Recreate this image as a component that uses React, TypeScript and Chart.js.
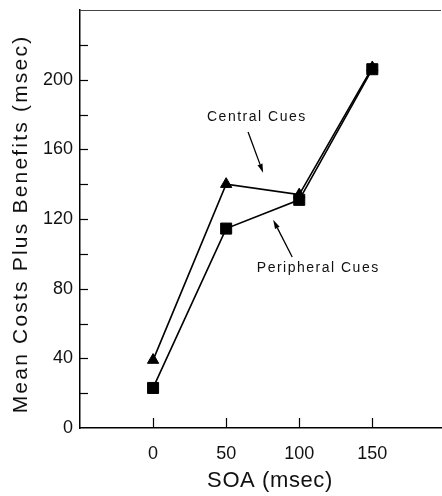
import { useEffect, useRef } from 'react';
import { Chart, registerables } from 'chart.js';

Chart.register(...registerables);

// ---- data ----
const SOA = [0, 50, 100, 150];
const CENTRAL = [39, 140, 134, 207];
const PERIPHERAL = [23, 114.5, 131, 206];
const X_TICKS = [0, 50, 100, 150];
const Y_TICKS = [0, 20, 40, 60, 80, 100, 120, 140, 160, 180, 200, 220];
const Y_LABELS = [0, 40, 80, 120, 160, 200];
const X_TITLE = 'SOA (msec)';
const Y_TITLE = 'Mean Costs Plus Benefits (msec)';

// annotation labels and arrows (data units)
const LABELS = [
  { text: 'Central Cues', x: 71, y: 178.5 },
  { text: 'Peripheral Cues', x: 113, y: 91.5 },
];
const ARROWS = [
  { fx: 65, fy: 170, tx: 75.3, ty: 146.5 },
  { fx: 95.2, fy: 98.2, tx: 82.2, ty: 119.5 },
];
// x-axis title centre (data units along x)
const X_TITLE_AT = 80;

const FONT = "'Liberation Sans', Arial, sans-serif";

export default function App() {
  const ref = useRef<HTMLCanvasElement>(null);

  useEffect(() => {
    if (!ref.current) return;

    const decor = {
      id: 'decor',
      afterDraw(chart: any) {
        const { ctx, chartArea } = chart;
        const { left, right, top, bottom } = chartArea;
        const xs = chart.scales.x;
        const ys = chart.scales.y;
        ctx.save();
        // top frame line
        ctx.strokeStyle = '#444';
        ctx.lineWidth = 1;
        ctx.beginPath();
        ctx.moveTo(left, top + 0.5);
        ctx.lineTo(right, top + 0.5);
        ctx.stroke();

        // inward ticks
        ctx.strokeStyle = '#000';
        ctx.lineWidth = 1.2;
        Y_TICKS.forEach((v) => {
          if (v === 0) return;
          const py = Math.round(ys.getPixelForValue(v)) + 0.5;
          ctx.beginPath();
          ctx.moveTo(left, py);
          ctx.lineTo(left + 8, py);
          ctx.stroke();
        });
        X_TICKS.forEach((v) => {
          const px = Math.round(xs.getPixelForValue(v)) + 0.5;
          ctx.beginPath();
          ctx.moveTo(px, bottom);
          ctx.lineTo(px, bottom - 10);
          ctx.stroke();
        });

        // arrows
        ARROWS.forEach((a) => {
          const x1 = xs.getPixelForValue(a.fx);
          const y1 = ys.getPixelForValue(a.fy);
          const x2 = xs.getPixelForValue(a.tx);
          const y2 = ys.getPixelForValue(a.ty);
          const ang = Math.atan2(y2 - y1, x2 - x1);
          const hl = 9;
          const hw = 2.6;
          const bx = x2 - hl * Math.cos(ang);
          const by = y2 - hl * Math.sin(ang);
          ctx.strokeStyle = '#000';
          ctx.lineWidth = 1.3;
          ctx.beginPath();
          ctx.moveTo(x1, y1);
          ctx.lineTo(bx, by);
          ctx.stroke();
          ctx.fillStyle = '#000';
          ctx.beginPath();
          ctx.moveTo(x2, y2);
          ctx.lineTo(bx + hw * Math.sin(ang), by - hw * Math.cos(ang));
          ctx.lineTo(bx - hw * Math.sin(ang), by + hw * Math.cos(ang));
          ctx.closePath();
          ctx.fill();
        });

        // annotation labels
        ctx.fillStyle = '#111';
        ctx.font = `14px ${FONT}`;
        ctx.textAlign = 'center';
        ctx.textBaseline = 'middle';
        (ctx as any).letterSpacing = '1.5px';
        LABELS.forEach((l) => {
          ctx.fillText(l.text, xs.getPixelForValue(l.x), ys.getPixelForValue(l.y));
        });

        // x title
        (ctx as any).letterSpacing = '0.6px';
        ctx.font = `22px ${FONT}`;
        ctx.fillText(X_TITLE, xs.getPixelForValue(X_TITLE_AT), bottom + 53);

        // y title
        (ctx as any).letterSpacing = '2.2px';
        ctx.font = `21px ${FONT}`;
        ctx.translate(21, (top + bottom) / 2 + 5);
        ctx.rotate(-Math.PI / 2);
        ctx.fillText(Y_TITLE, 0, 0);
        (ctx as any).letterSpacing = '0px';
        ctx.restore();
      },
    };

    const zeroMargins = (s: any) => {
      s.paddingLeft = 0;
      s.paddingRight = 0;
      s.paddingTop = 0;
      s.paddingBottom = 0;
      if (s._margins) {
        s._margins.left = 0;
        s._margins.right = 0;
        s._margins.top = 0;
        s._margins.bottom = 0;
      }
    };

    const chart = new Chart(ref.current, {
      type: 'line',
      data: {
        datasets: [
          {
            label: 'Peripheral Cues',
            data: SOA.map((x, i) => ({ x, y: PERIPHERAL[i] })),
            borderColor: '#000',
            backgroundColor: '#000',
            borderWidth: 1.6,
            pointStyle: 'rect',
            pointRadius: 7.8,
            pointBorderWidth: 1,
            pointBackgroundColor: '#000',
            tension: 0,
          },
          {
            label: 'Central Cues',
            data: SOA.map((x, i) => ({ x, y: CENTRAL[i] })),
            borderColor: '#000',
            backgroundColor: '#000',
            borderWidth: 1.6,
            pointStyle: 'triangle',
            pointRadius: 6.5,
            pointBorderWidth: 1,
            pointBackgroundColor: '#000',
            tension: 0,
          },
        ],
      },
      options: {
        responsive: false,
        animation: false,
        layout: { autoPadding: false, padding: { top: 10, right: 1, left: 0, bottom: 0 } },
        plugins: {
          legend: { display: false },
          tooltip: { enabled: false },
        },
        scales: {
          x: {
            type: 'linear',
            min: -50,
            max: 197,
            grid: { display: false, drawTicks: false },
            border: { display: true, color: '#000', width: 1.5 },
            afterBuildTicks: (s: any) => {
              s.ticks = X_TICKS.map((v) => ({ value: v }));
            },
            afterFit: (s: any) => {
              s.height = 68;
              zeroMargins(s);
            },
            ticks: {
              autoSkip: false,
              maxRotation: 0,
              minRotation: 0,
              padding: 15,
              color: '#111',
              font: { family: FONT, size: 18 },
              callback: (v: any) => String(v),
            },
          },
          y: {
            type: 'linear',
            min: 0,
            max: 240,
            grid: { display: false, drawTicks: false },
            border: { display: true, color: '#000', width: 1.5 },
            afterBuildTicks: (s: any) => {
              s.ticks = Y_TICKS.map((v) => ({ value: v }));
            },
            afterFit: (s: any) => {
              s.width = 80;
              zeroMargins(s);
            },
            ticks: {
              autoSkip: false,
              padding: 7,
              color: '#111',
              font: { family: FONT, size: 18 },
              callback: (v: any) => (Y_LABELS.includes(Number(v)) ? String(v) : ''),
            },
          },
        },
      },
      plugins: [decor],
    });

    return () => chart.destroy();
  }, []);

  return (
    <div style={{ position: 'fixed', left: 0, top: 0, width: 442, height: 496, background: '#fff' }}>
      <canvas ref={ref} width={442} height={496} style={{ display: 'block' }} />
    </div>
  );
}
